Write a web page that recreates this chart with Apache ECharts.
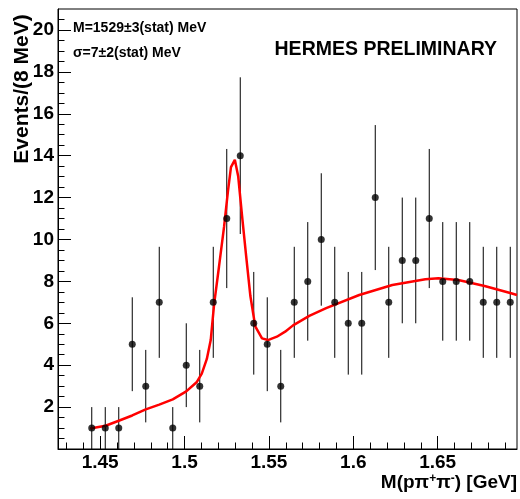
<!DOCTYPE html>
<html>
<head>
<meta charset="utf-8">
<script src="https://cdn.jsdelivr.net/npm/echarts@6/dist/echarts.min.js"></script>
<style>
html,body{margin:0;padding:0;background:#fff;}
#chart{width:520px;height:499px;}
</style>
</head>
<body>
<div id="chart"></div>
<script>
// Bin centres (GeV), counts and statistical errors
var binCenters = [1.445,1.453,1.461,1.469,1.477,1.485,1.493,1.501,1.509,1.517,1.525,1.533,1.541,1.549,1.557,1.565,1.573,1.581,1.589,1.597,1.605,1.613,1.621,1.629,1.637,1.645,1.653,1.661,1.669,1.677,1.685,1.693];
var counts = [1,1,1,5,3,7,1,4,3,7,11,14,6,5,3,7,8,10,7,6,6,12,7,9,9,11,8,8,8,7,7,7];
var errors = [1,1,1,2.24,1.73,2.65,1,2,1.73,2.65,3.32,3.74,2.45,2.24,1.73,2.65,2.83,3.16,2.65,2.45,2.45,3.46,2.65,3,3,3.32,2.83,2.83,2.83,2.65,2.65,2.65];
// Fit curve
var fitX = [1.4441,1.4532,1.461,1.469,1.477,1.485,1.493,1.501,1.5073,1.5102,1.5132,1.5155,1.5175,1.5204,1.5234,1.5257,1.5275,1.5298,1.5318,1.5341,1.5365,1.539,1.5419,1.5459,1.5494,1.5547,1.5596,1.5643,1.5739,1.5839,1.6035,1.6231,1.6427,1.6504,1.6622,1.6778,1.6935,1.697];
var fitY = [0.98,1.11,1.35,1.6,1.89,2.12,2.37,2.75,3.2,3.6,4.3,5.2,6.9,8.7,10.6,12.3,13.45,13.8,13.0,11.1,9.2,7.3,5.85,5.28,5.2,5.36,5.6,5.9,6.35,6.72,7.35,7.83,8.1,8.15,8.07,7.78,7.43,7.35];
// Axis ticks
var xMajorTicks = [1.45,1.5,1.55,1.6,1.65];
var xMinorTicks = [1.43,1.44,1.46,1.47,1.48,1.49,1.51,1.52,1.53,1.54,1.56,1.57,1.58,1.59,1.61,1.62,1.63,1.64,1.66,1.67,1.68,1.69];
var yLabels = [2,4,6,8,10,12,14,16,18,20];
var yMajorTicks = [0,2,4,6,8,10,12,14,16,18,20];
var yMinorTicks = [0.5,1,1.5,2.5,3,3.5,4.5,5,5.5,6.5,7,7.5,8.5,9,9.5,10.5,11,11.5,12.5,13,13.5,14.5,15,15.5,16.5,17,17.5,18.5,19,19.5,20.5];

var FONT = '"Liberation Sans", Arial, Helvetica, sans-serif';
var chart = echarts.init(document.getElementById('chart'), null, {renderer:'canvas'});

var points = binCenters.map(function(x,i){return [x, counts[i]];});
var bars = binCenters.map(function(x,i){return [x, counts[i]-errors[i], counts[i]+errors[i]];});
var fit = fitX.map(function(x,i){return [x, fitY[i]];});

var xBase = {type:'value', min:1.425, max:1.697, gridIndex:0, splitLine:{show:false}};
var yBase = {type:'value', min:0, max:21, gridIndex:0, splitLine:{show:false}};

chart.setOption({
  animation:false,
  backgroundColor:'#fff',
  grid:{left:58, top:9, width:459, height:440, show:true, borderColor:'#000', borderWidth:1, backgroundColor:'transparent', containLabel:false, outerBoundsMode:'none'},
  xAxis:[
    Object.assign({}, xBase, {
      axisLine:{show:true, onZero:false, lineStyle:{color:'#000', width:1}},
      axisTick:{show:true, inside:true, length:13, customValues:xMajorTicks, lineStyle:{color:'#000', width:1}},
      axisLabel:{show:true, customValues:xMajorTicks, margin:4, color:'#000', fontFamily:FONT, fontWeight:'bold', fontSize:19}
    }),
    Object.assign({}, xBase, {
      position:'bottom',
      axisLine:{show:false},
      axisTick:{show:true, inside:true, length:6.5, customValues:xMinorTicks, lineStyle:{color:'#000', width:1}},
      axisLabel:{show:false}
    })
  ],
  yAxis:[
    Object.assign({}, yBase, {
      axisLine:{show:true, onZero:false, lineStyle:{color:'#000', width:1}},
      axisTick:{show:true, inside:true, length:13, customValues:yMajorTicks, lineStyle:{color:'#000', width:1}},
      axisLabel:{show:true, customValues:yLabels, margin:4, color:'#000', fontFamily:FONT, fontWeight:'bold', fontSize:19}
    }),
    Object.assign({}, yBase, {
      position:'left',
      axisLine:{show:false},
      axisTick:{show:true, inside:true, length:6.5, customValues:yMinorTicks, lineStyle:{color:'#000', width:1}},
      axisLabel:{show:false}
    })
  ],
  series:[
    {
      type:'custom', xAxisIndex:0, yAxisIndex:0, data:bars, z:2, clip:true,
      renderItem:function(params, api){
        var p1 = api.coord([api.value(0), api.value(1)]);
        var p2 = api.coord([api.value(0), api.value(2)]);
        return {type:'line', shape:{x1:p1[0], y1:p1[1], x2:p2[0], y2:p2[1]}, style:{stroke:'#000', lineWidth:1}};
      }
    },
    {
      type:'line', xAxisIndex:0, yAxisIndex:0, data:fit, showSymbol:false, smooth:false, z:3,
      lineStyle:{color:'#ff0000', width:2.5}
    },
    {
      type:'scatter', xAxisIndex:0, yAxisIndex:0, data:points, symbol:'circle', symbolSize:7, z:4,
      itemStyle:{color:'#000'}
    }
  ],
  graphic:[
    {type:'text', x:73, y:28.5, style:{text:'M=1529\u00b13(stat) MeV', font:'bold 14px '+FONT, fill:'#000', textAlign:'left', textVerticalAlign:'middle'}},
    {type:'text', x:73, y:53, style:{text:'\u03c3=7\u00b12(stat) MeV', font:'bold 14px '+FONT, fill:'#000', textAlign:'left', textVerticalAlign:'middle'}},
    {type:'text', x:497, y:50, style:{text:'HERMES PRELIMINARY', font:'bold 19.5px '+FONT, fill:'#000', textAlign:'right', textVerticalAlign:'middle'}},
    {type:'text', x:22, y:89, rotation:Math.PI/2, style:{text:'Events/(8 MeV)', font:'bold 21px '+FONT, fill:'#000', textAlign:'center', textVerticalAlign:'middle'}},
    {type:'text', x:517, y:483, style:{
      text:'M(p\u03c0{sup|+}\u03c0{sup|-}) [GeV]', font:'bold 19px '+FONT, fill:'#000', textAlign:'right', textVerticalAlign:'middle',
      rich:{sup:{fontSize:12, fontWeight:'bold', fontFamily:FONT, fill:'#000', verticalAlign:'top', padding:[0,0,8,0]}}
    }}
  ]
});
</script>
</body>
</html>
